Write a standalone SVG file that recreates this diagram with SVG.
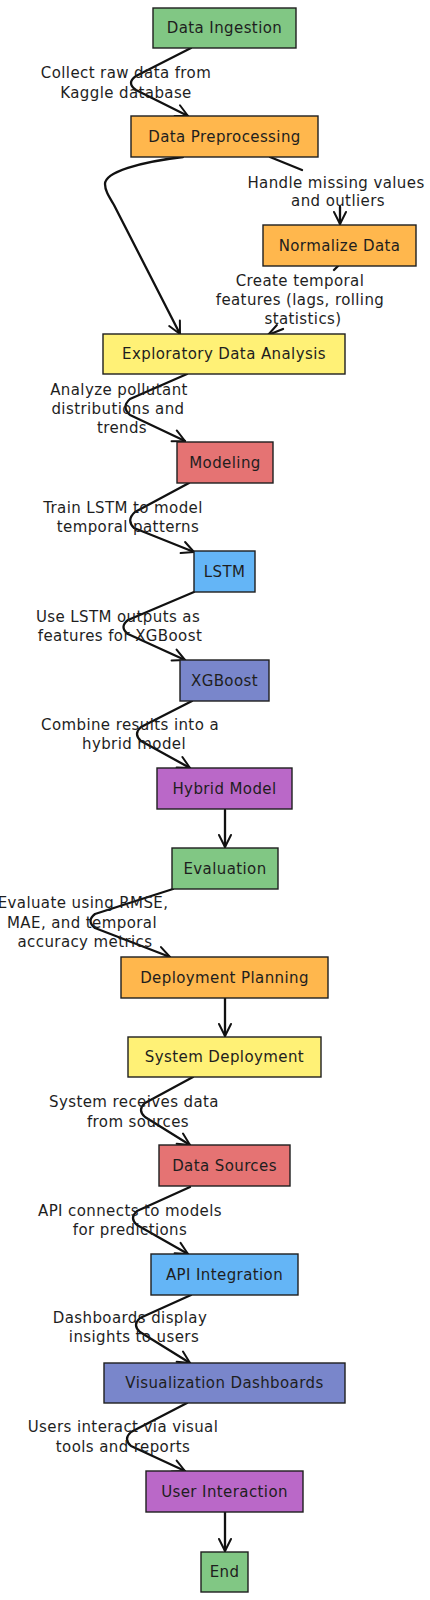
<svg xmlns="http://www.w3.org/2000/svg" width="430" height="1600" viewBox="0 0 430 1600">
<style>
.n rect{stroke:#1e1e1e;stroke-width:1.4}
.n text,.lbl text{font-family:"DejaVu Sans","Liberation Sans",sans-serif;font-size:15px;letter-spacing:0.4px;fill:#1e1e1e;text-anchor:middle}
.e path{fill:none;stroke:#111;stroke-width:2.3;stroke-linecap:round;stroke-linejoin:round}
.green{fill:#81c784}.orange{fill:#ffb74d}.yellow{fill:#fff176}.red{fill:#e57373}.blue{fill:#64b5f6}.indigo{fill:#7986cb}.purple{fill:#ba68c8}
</style>
<defs>
<marker id="ah" markerUnits="userSpaceOnUse" markerWidth="20" markerHeight="20" viewBox="-14 -10 16 20" refX="0" refY="0" orient="auto">
<path d="M-12,-6 L0,0 L-12,6" fill="none" stroke="#111" stroke-width="2" stroke-linecap="round" stroke-linejoin="round"/>
</marker>
</defs>
<rect width="430" height="1600" fill="#ffffff"/>
<g id="connectors" class="e">
<path d="M191,48 L136,76 Q126,83 136,90 L188,116" marker-end="url(#ah)"/>
<path d="M270,157 L302,170"/>
<path d="M340,207 L340,224" marker-end="url(#ah)"/>
<path d="M338,266 L334,270"/>
<path d="M283,329 L268,335" marker-end="url(#ah)"/>
<path d="M183,157 C140,162 105,172 105,184 C105,190 108,195 114,205 L180,334" marker-end="url(#ah)"/>
<path d="M187,374 L130,399 Q121,407 130,415 L185,441" marker-end="url(#ah)"/>
<path d="M189,483 L135,512 Q126,520 134,528 L194,552" marker-end="url(#ah)"/>
<path d="M194,592 L128,620 Q119,627 128,634 L185,660" marker-end="url(#ah)"/>
<path d="M192,701 L141,727 Q133,734 141,741 L190,768" marker-end="url(#ah)"/>
<path d="M225,810 L225,847" marker-end="url(#ah)"/>
<path d="M173,889 L95,914 Q86,921 95,928 L170,957" marker-end="url(#ah)"/>
<path d="M225,998 L225,1036" marker-end="url(#ah)"/>
<path d="M193,1077 L145,1103 Q137,1110 145,1117 L190,1145" marker-end="url(#ah)"/>
<path d="M190,1187 L137,1211 Q129,1218 137,1225 L188,1254" marker-end="url(#ah)"/>
<path d="M191,1295 L140,1318 Q132,1325 140,1332 L190,1363" marker-end="url(#ah)"/>
<path d="M187,1403 L131,1432 Q123,1439 131,1446 L185,1471" marker-end="url(#ah)"/>
<path d="M225,1512 L225,1551" marker-end="url(#ah)"/>
</g>
<g id="edge-labels" class="lbl">
<text x="126" y="78">Collect raw data from</text><text x="126" y="98">Kaggle database</text>
<text x="336" y="188">Handle missing values</text><text x="338" y="206">and outliers</text>
<text x="300" y="286">Create temporal</text><text x="300" y="305">features (lags, rolling</text><text x="303" y="324">statistics)</text>
<text x="119" y="395">Analyze pollutant</text><text x="118" y="414">distributions and</text><text x="122" y="433">trends</text>
<text x="123" y="513">Train LSTM to model</text><text x="128" y="532">temporal patterns</text>
<text x="118" y="622">Use LSTM outputs as</text><text x="120" y="641">features for XGBoost</text>
<text x="130" y="730">Combine results into a</text><text x="134" y="749">hybrid model</text>
<text x="83" y="908">Evaluate using RMSE,</text><text x="82" y="928">MAE, and temporal</text><text x="85" y="947">accuracy metrics</text>
<text x="134" y="1107">System receives data</text><text x="138" y="1127">from sources</text>
<text x="130" y="1216">API connects to models</text><text x="130" y="1235">for predictions</text>
<text x="130" y="1323">Dashboards display</text><text x="134" y="1342">insights to users</text>
<text x="123" y="1432">Users interact via visual</text><text x="123" y="1452">tools and reports</text>
</g>
<g id="data-ingestion" class="n"><rect class="green" x="153" y="8" width="143" height="40"/><text x="224.5" y="33">Data Ingestion</text></g>
<g id="data-preprocessing" class="n"><rect class="orange" x="131" y="116" width="187" height="41"/><text x="224.5" y="141.5">Data Preprocessing</text></g>
<g id="normalize-data" class="n"><rect class="orange" x="263" y="225" width="153" height="41"/><text x="339.5" y="250.5">Normalize Data</text></g>
<g id="eda" class="n"><rect class="yellow" x="103" y="334" width="242" height="40"/><text x="224" y="359">Exploratory Data Analysis</text></g>
<g id="modeling" class="n"><rect class="red" x="177" y="442" width="96" height="41"/><text x="225" y="467.5">Modeling</text></g>
<g id="lstm" class="n"><rect class="blue" x="194" y="551" width="61" height="41"/><text x="224.5" y="576.5">LSTM</text></g>
<g id="xgboost" class="n"><rect class="indigo" x="180" y="660" width="89" height="41"/><text x="224.5" y="685.5">XGBoost</text></g>
<g id="hybrid-model" class="n"><rect class="purple" x="157" y="768" width="135" height="41"/><text x="224.5" y="793.5">Hybrid Model</text></g>
<g id="evaluation" class="n"><rect class="green" x="172" y="848" width="106" height="41"/><text x="225" y="873.5">Evaluation</text></g>
<g id="deployment-planning" class="n"><rect class="orange" x="121" y="957" width="207" height="41"/><text x="224.5" y="982.5">Deployment Planning</text></g>
<g id="system-deployment" class="n"><rect class="yellow" x="128" y="1037" width="193" height="40"/><text x="224.5" y="1062">System Deployment</text></g>
<g id="data-sources" class="n"><rect class="red" x="159" y="1145" width="131" height="41"/><text x="224.5" y="1170.5">Data Sources</text></g>
<g id="api-integration" class="n"><rect class="blue" x="151" y="1254" width="147" height="41"/><text x="224.5" y="1279.5">API Integration</text></g>
<g id="visualization-dashboards" class="n"><rect class="indigo" x="104" y="1363" width="241" height="40"/><text x="224.5" y="1388">Visualization Dashboards</text></g>
<g id="user-interaction" class="n"><rect class="purple" x="146" y="1471" width="157" height="41"/><text x="224.5" y="1496.5">User Interaction</text></g>
<g id="end" class="n"><rect class="green" x="201" y="1552" width="47" height="40"/><text x="224.5" y="1577">End</text></g>
</svg>
